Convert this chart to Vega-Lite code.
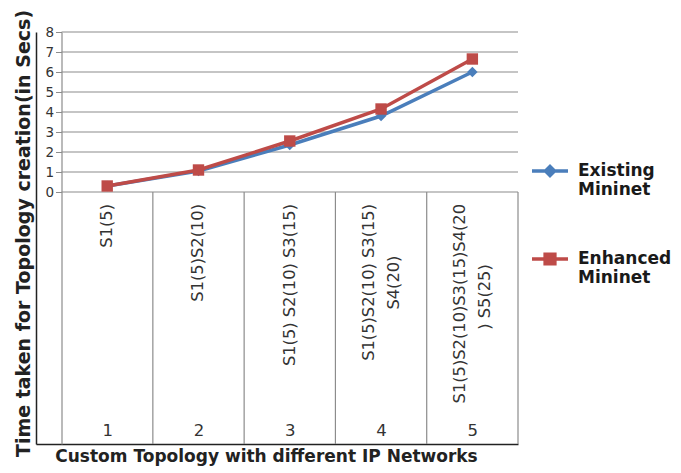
{
  "$schema": "https://vega.github.io/schema/vega-lite/v6.json",
  "width": 482,
  "height": 412,
  "padding": {"left": 14, "top": 9, "right": 5, "bottom": 5},
  "config": {"view": {"stroke": null}, "font": "DejaVu Sans"},
  "datasets": {
    "series": [
      {"idx": 1, "series": "Existing Mininet", "value": 0.3},
      {"idx": 2, "series": "Existing Mininet", "value": 1.05},
      {"idx": 3, "series": "Existing Mininet", "value": 2.35},
      {"idx": 4, "series": "Existing Mininet", "value": 3.8},
      {"idx": 5, "series": "Existing Mininet", "value": 6.0},
      {"idx": 1, "series": "Enhanced Mininet", "value": 0.3},
      {"idx": 2, "series": "Enhanced Mininet", "value": 1.1},
      {"idx": 3, "series": "Enhanced Mininet", "value": 2.55},
      {"idx": 4, "series": "Enhanced Mininet", "value": 4.15},
      {"idx": 5, "series": "Enhanced Mininet", "value": 6.65}
    ],
    "cats": [
      {"idx": 1, "line1": "S1(5)", "line2": ""},
      {"idx": 2, "line1": "S1(5)S2(10)", "line2": ""},
      {"idx": 3, "line1": "S1(5) S2(10) S3(15)", "line2": ""},
      {"idx": 4, "line1": "S1(5)S2(10) S3(15)", "line2": "S4(20)"},
      {"idx": 5, "line1": "S1(5)S2(10)S3(15)S4(20", "line2": ") S5(25)"}
    ],
    "grid": [{"v": 0}, {"v": 1}, {"v": 2}, {"v": 3}, {"v": 4}, {"v": 5}, {"v": 6}, {"v": 7}, {"v": 8}],
    "bounds": [{"b": 1.5}, {"b": 2.5}, {"b": 3.5}, {"b": 4.5}, {"b": 5.5}]
  },
  "resolve": {"axis": {"x": "independent", "y": "independent"}},
  "layer": [
    {
      "data": {"name": "grid"},
      "mark": {"type": "rule", "color": "#8c8c8c", "strokeWidth": 1.2},
      "encoding": {
        "y": {
          "field": "v", "type": "quantitative",
          "scale": {"domain": [-12.6, 8], "nice": false, "zero": false},
          "axis": {"orient": "left", "offset": -25.5, "values": [0, 1, 2, 3, 4, 5, 6, 7, 8], "format": "d", "title": null, "grid": false,
                   "domain": true, "domainColor": "#8c8c8c", "domainWidth": 1.2, "ticks": true, "tickSize": 6, "tickColor": "#8c8c8c",
                   "labelFontSize": 13.5, "labelColor": "#333333", "labelPadding": 2, "labelFont": "DejaVu Sans"}
        },
        "x": {
          "datum": 0.5, "type": "quantitative",
          "scale": {"domain": [0.22, 5.5], "nice": false, "zero": false},
          "axis": {"orient": "bottom", "title": "Custom Topology with different IP Networks", "labels": false, "ticks": false, "grid": false,
                   "domain": true, "domainColor": "#222222", "domainWidth": 1.5, "titleFont": "DejaVu Sans", "titleFontSize": 17,
                   "titleFontWeight": "bold", "titleColor": "#222222", "titlePadding": 4, "titleX": 230}
        },
        "x2": {"datum": 5.5}
      }
    },
    {
      "data": {"name": "bounds"},
      "mark": {"type": "rule", "color": "#8c8c8c", "strokeWidth": 1.2},
      "encoding": {
        "x": {
          "field": "b", "type": "quantitative",
          "axis": {"orient": "bottom", "offset": -24, "values": [1, 2, 3, 4, 5], "format": "d", "domain": false, "ticks": false, "grid": false,
                   "labelFontSize": 16.5, "labelColor": "#333333", "labelPadding": 2, "labelFont": "DejaVu Sans", "title": null}
        },
        "y": {
          "datum": 0, "type": "quantitative",
          "axis": {"orient": "left", "domain": true, "domainColor": "#222222", "domainWidth": 1.5, "labels": false, "ticks": false, "grid": false,
                   "title": "Time taken for Topology creation(in Secs)", "titleFont": "DejaVu Sans", "titleFontSize": 19,
                   "titleFontWeight": "bold", "titleColor": "#222222", "titlePadding": 3, "titleY": 201}
        },
        "y2": {"datum": -12.6}
      }
    },
    {
      "data": {"name": "cats"},
      "mark": {"type": "text", "angle": 270, "align": "right", "baseline": "middle", "fontSize": 16.25, "color": "#333333",
               "font": "DejaVu Sans", "dy": {"expr": "datum.line2 ? -12.5 : 0"}},
      "encoding": {
        "x": {"field": "idx", "type": "quantitative", "axis": null},
        "y": {"datum": -0.6, "type": "quantitative", "axis": null},
        "text": {"field": "line1"}
      }
    },
    {
      "data": {"name": "cats"},
      "transform": [{"filter": "datum.line2 != ''"}],
      "mark": {"type": "text", "angle": 270, "align": "right", "baseline": "middle", "fontSize": 16.25, "color": "#333333",
               "font": "DejaVu Sans", "dy": 12.5, "dx": {"expr": "-(length(datum.line1) - length(datum.line2)) * 4.3"}},
      "encoding": {
        "x": {"field": "idx", "type": "quantitative", "axis": null},
        "y": {"datum": -0.6, "type": "quantitative", "axis": null},
        "text": {"field": "line2"}
      }
    },
    {
      "data": {"name": "series"},
      "mark": {"type": "line", "strokeWidth": 3.5},
      "encoding": {
        "x": {"field": "idx", "type": "quantitative", "axis": null},
        "y": {"field": "value", "type": "quantitative", "axis": null},
        "color": {
          "field": "series", "type": "nominal",
          "scale": {"domain": ["Existing Mininet", "Enhanced Mininet"], "range": ["#4a7ebb", "#be4b48"]},
          "legend": {
            "title": null, "orient": "none", "legendX": 494, "legendY": 119, "padding": 0,
            "symbolSize": 1296, "symbolStrokeWidth": 3.5,
            "labelFont": "DejaVu Sans", "labelFontSize": 17, "labelFontWeight": "bold", "labelColor": "#1a1a1a",
            "labelOffset": 8, "labelExpr": "split(datum.label, ' ')", "rowPadding": 41, "labelBaseline": "middle",
            "encode": {
              "symbols": {
                "update": {
                  "shape": {"signal": "datum.value === 'Existing Mininet' ? 'M-1,0H1M0,-0.25L0.25,0L0,0.25L-0.25,0Z' : 'M-1,0H1M-0.27,-0.27H0.27V0.27H-0.27Z'"},
                  "fill": {"scale": "color", "field": "value"},
                  "stroke": {"scale": "color", "field": "value"},
                  "strokeWidth": {"value": 3.5}
                }
              }
            }
          }
        }
      }
    },
    {
      "data": {"name": "series"},
      "transform": [{"filter": "datum.series === 'Existing Mininet'"}],
      "mark": {"type": "point", "filled": true, "size": 110, "opacity": 1, "shape": "diamond"},
      "encoding": {
        "x": {"field": "idx", "type": "quantitative", "axis": null},
        "y": {"field": "value", "type": "quantitative", "axis": null},
        "color": {"field": "series", "type": "nominal", "legend": null}
      }
    },
    {
      "data": {"name": "series"},
      "transform": [{"filter": "datum.series === 'Enhanced Mininet'"}],
      "mark": {"type": "point", "filled": true, "size": 130, "opacity": 1, "shape": "square"},
      "encoding": {
        "x": {"field": "idx", "type": "quantitative", "axis": null},
        "y": {"field": "value", "type": "quantitative", "axis": null},
        "color": {"field": "series", "type": "nominal", "legend": null}
      }
    }
  ]
}
